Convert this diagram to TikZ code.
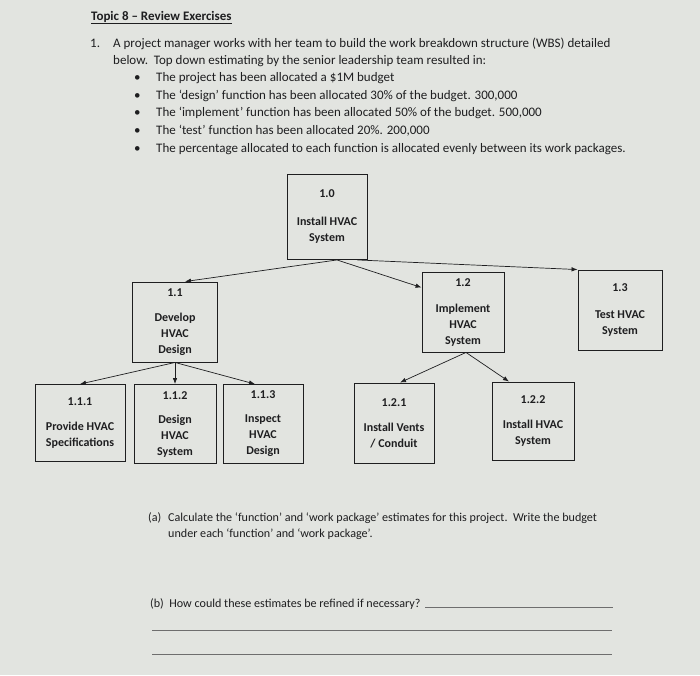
\documentclass[tikz,border=0pt]{standalone}
\usepackage{fontspec}
\setmainfont{Carlito}
\usepackage{xcolor}
\usepackage{tikz}
\usetikzlibrary{arrows.meta}
\definecolor{paper}{RGB}{226,228,224}
\definecolor{ink}{RGB}{30,30,32}
\definecolor{pen}{RGB}{110,110,110}

\begin{document}
\begin{tikzpicture}[x=1pt, y=-1pt,
  wbs/.style={
    draw=ink, line width=0.9pt, inner sep=0pt,
    minimum width=82pt, minimum height=80pt,
    text=ink, font=\bfseries\fontsize{12}{16}\selectfont, align=center
  },
  txt/.style={
    anchor=base west, inner sep=0pt,
    text=ink, font=\fontsize{13}{17}\selectfont
  },
  small/.style={font=\fontsize{12.1}{16}\selectfont},
  link/.style={draw=ink, line width=0.7pt, -{Latex[length=6pt,width=4.5pt]}}
]
\fill[paper] (0,0) rectangle (700,675);

% question text
\node[txt, font=\bfseries\fontsize{13}{17}\selectfont] (title) at (91,20) {\underline{Topic 8 -- Review Exercises}};
\node[txt] (q1) at (90,47) {1.};
\node[txt] (q1a) at (113,47) {A project manager works with her team to build the work breakdown structure (WBS) detailed};
\node[txt] (q1b) at (113,64) {below.\ \ Top down estimating by the senior leadership team resulted in:};
\foreach \y/\t [count=\i] in {
  81/{The project has been allocated a \$1M budget},
  99/{The ‘design’ function has been allocated 30\% of the budget. 300,000},
  116/{The ‘implement’ function has been allocated 50\% of the budget. 500,000},
  134/{The ‘test’ function has been allocated 20\%. 200,000},
  152/{The percentage allocated to each function is allocated evenly between its work packages.}}
{
  \node[txt] (b\i) at (134,\y) {\textbullet};
  \node[txt] (p\i) at (156,\y) {\t};
}

% WBS boxes
\node[wbs, minimum width=80pt, minimum height=85pt] (w0) at (327,217) {1.0\\[12pt]Install HVAC\\System};
\node[wbs, minimum width=85pt] (w1) at (175,322) {1.1\\[9pt]Develop\\HVAC\\Design};
\node[wbs] (w2) at (463,312) {1.2\\[10pt]Implement\\HVAC\\System};
\node[wbs, minimum width=84pt] (w3) at (620,310) {1.3\\[10pt]Test HVAC\\System};

\node[wbs, minimum width=90pt, minimum height=77pt] (w11) at (80,423) {1.1.1\\[9pt]Provide HVAC\\Specifications};
\node[wbs, minimum height=79pt] (w12) at (175,424) {1.1.2\\[8pt]Design\\HVAC\\System};
\node[wbs, minimum width=80pt, minimum height=79pt] (w13) at (263,424) {1.1.3\\[8pt]Inspect\\HVAC\\Design};
\node[wbs, minimum width=80pt] (w21) at (394,423) {1.2.1\\[9pt]Install Vents\\/ Conduit};
\node[wbs, minimum height=78pt] (w22) at (533,421) {1.2.2\\[9pt]Install HVAC\\System};

% arrows
\draw[link] ([xshift=10pt]w0.south) -- ([xshift=10pt]w1.north);
\draw[link] ([xshift=10pt]w0.south) -- ([yshift=-16pt]w2.north west);
\draw[link] ([xshift=-10pt]w0.south east) -- (w3.north west);
\draw[link] (w1.south) -- (w11.north);
\draw[link] (w1.south) -- (w12.north);
\draw[link] (w1.south) -- ([xshift=-8pt]w13.north);
\draw[link] ([xshift=3pt]w2.south) -- ([xshift=6pt]w21.north);
\draw[link] ([xshift=3pt]w2.south) -- ([xshift=-24pt]w22.north);

% part (a) and (b)
\node[txt, small] (qa) at (148,521) {(a)};
\node[txt, small] (qa1) at (168,521) {Calculate the ‘function’ and ‘work package’ estimates for this project.\ \ Write the budget};
\node[txt, small] (qa2) at (168,537) {under each ‘function’ and ‘work package’.};
\node[txt, small] (qb) at (150,607) {(b)\ \ How could these estimates be refined if necessary?};
\draw[pen, line width=0.8pt] (425,607) -- (613,607);
\draw[pen, line width=0.8pt] (152,630) -- (612,630);
\draw[pen, line width=0.8pt] (152,654) -- (612,654);
\end{tikzpicture}
\end{document}
